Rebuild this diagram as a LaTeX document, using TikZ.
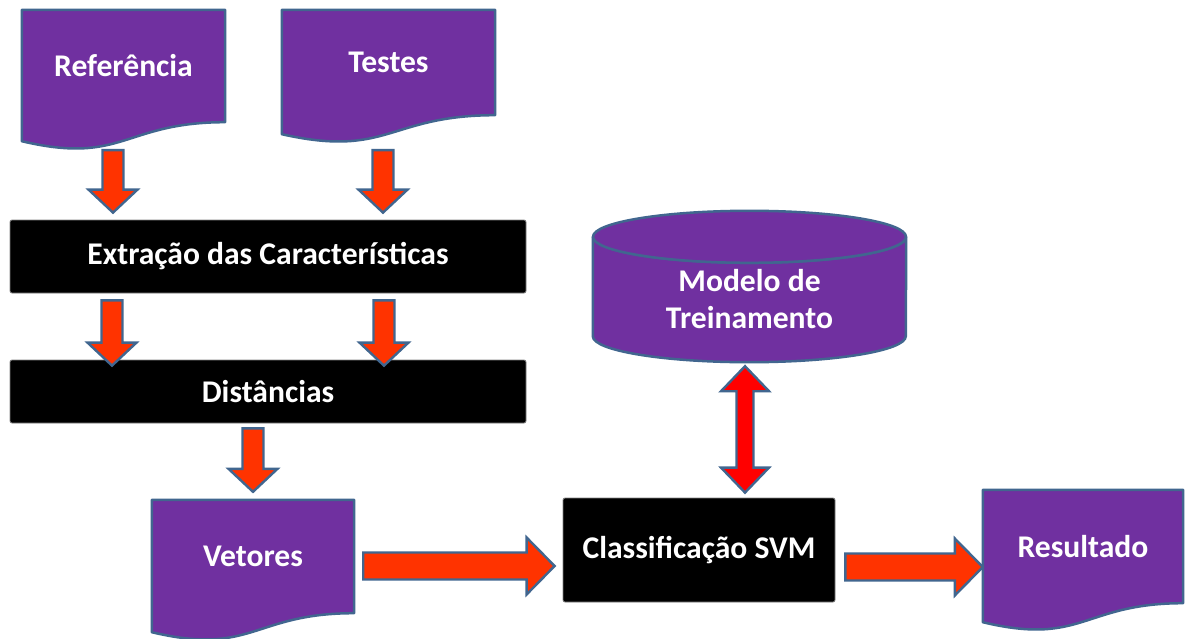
\documentclass[tikz,border=0pt]{standalone}
\usepackage{fontspec}
\setmainfont{Carlito}
\usetikzlibrary{calc}

\definecolor{docpurple}{HTML}{7030A0}
\definecolor{edgeblue}{HTML}{41668F}
\definecolor{arrowred}{HTML}{FF3300}
\definecolor{linkred}{HTML}{FF0000}
\definecolor{boxedge}{HTML}{808080}

\tikzset{
  label text/.style={text=white, font=\fontsize{31.6}{37}\selectfont\bfseries, align=center},
  docnode/.style={label text, inner sep=0pt},
  docshape/.style={fill=docpurple, draw=edgeblue, line width=2.5pt, line join=round},
  procbox/.style={label text, fill=black, draw=boxedge, line width=0.8pt, rounded corners=2pt, inner sep=0pt},
  blockarrow/.style={draw=edgeblue, line width=2.4pt, line join=miter},
}

% flowchart document outline around a node covering its upper part
\newcommand\docoutline[1]{%
  \path[docshape] (#1.north west) -- (#1.north east) -- (#1.south east)
    .. controls (#1.south) and ($(#1.south)+(0,43)$) .. ($(#1.south west)+(0,19)$) -- cycle;}

% fat downward arrow: #2 start of shaft, #3 tip
\newcommand\downblock[3][arrowred]{%
  \path[blockarrow, fill=#1] let \p1=#2, \p2=#3 in
    (\x1-10.5pt,\y1) -- (\x1+10.5pt,\y1) -- (\x1+10.5pt,\y2+23pt) -- (\x1+24.5pt,\y2+23pt)
    -- (\x1,\y2) -- (\x1-24.5pt,\y2+23pt) -- (\x1-10.5pt,\y2+23pt) -- cycle;}

% fat arrow pointing right: #2 start of shaft, #3 tip
\newcommand\rightblock[3][arrowred]{%
  \path[blockarrow, fill=#1] let \p1=#2, \p2=#3 in
    (\x1,\y2+13.5pt) -- (\x2-28pt,\y2+13.5pt) -- (\x2-28pt,\y2+28.5pt) -- (\x2,\y2)
    -- (\x2-28pt,\y2-28.5pt) -- (\x2-28pt,\y2-13.5pt) -- (\x1,\y2-13.5pt) -- cycle;}

% fat vertical arrow with two heads: #2 upper tip, #3 lower tip
\newcommand\updownblock[3][linkred]{%
  \path[blockarrow, fill=#1] let \p1=#2, \p2=#3 in
    (\x1,\y1) -- (\x1+24pt,\y1-25pt) -- (\x1+8.5pt,\y1-25pt) -- (\x1+8.5pt,\y2+25pt)
    -- (\x1+24pt,\y2+25pt) -- (\x1,\y2) -- (\x1-24pt,\y2+25pt) -- (\x1-8.5pt,\y2+25pt)
    -- (\x1-8.5pt,\y1-25pt) -- (\x1-24pt,\y1-25pt) -- cycle;}

\begin{document}
\begin{tikzpicture}[x=1pt, y=-1pt]
\useasboundingbox[fill=white] (0,0) rectangle (1185,639);

% input documents
\node[docnode, minimum width=203pt, minimum height=112pt] (ref) at (123.5,66) {};
\docoutline{ref}
\node[label text] at (ref.center) {Referência};

\node[docnode, minimum width=213pt, minimum height=105pt] (tst) at (388.5,62.5) {};
\docoutline{tst}
\node[label text] at (tst.center) {Testes};

% processing stages
\node[procbox, minimum width=516pt, minimum height=73pt] (ext) at (268,256.5) {Extração das Características};
\node[procbox, minimum width=516pt, minimum height=63pt] (dist) at (268,391.5) {Distâncias};

\node[docnode, minimum width=202pt, minimum height=113pt] (vet) at (253,556.5) {};
\docoutline{vet}
\node[label text] at (vet.center) {Vetores};

\node[procbox, minimum width=272pt, minimum height=104pt] (svm) at (699,550) {Classificação SVM};

\node[docnode, minimum width=200pt, minimum height=113pt] (res) at (1083,546.5) {};
\docoutline{res}
\node[label text] at (res.center) {Resultado};

% training model store
\node[inner sep=0pt, minimum width=313pt, minimum height=151pt] (model) at (749.5,286.5) {};
\path[docshape] ($(model.north west)+(0,26)$) -- ($(model.south west)+(0,-26)$)
  arc[start angle=180, end angle=360, x radius=156.5pt, y radius=26pt]
  -- ($(model.north east)+(0,26)$)
  arc[start angle=0, end angle=-180, x radius=156.5pt, y radius=26pt] -- cycle;
\path[docshape] ($(model.north)+(0,26)$) ellipse[x radius=156.5pt, y radius=26pt];
\node[label text] at ($(model.center)+(0,12.5)$) {Modelo de\\Treinamento};

% flow arrows
\downblock{($(ref.south)+(-10.5,28)$)}{($(ext.north -| ref.south)+(-10.5,-7)$)}
\downblock{($(tst.south)+(-5.5,35)$)}{($(ext.north -| tst.south)+(-5.5,-7)$)}
\downblock{($(ext.south)+(-156,7)$)}{($(dist.north)+(-156,6)$)}
\downblock{($(ext.south)+(116,7)$)}{($(dist.north)+(116,6)$)}
\downblock{($(dist.south)+(-15,5)$)}{($(vet.north)+(0,-8)$)}
\rightblock{($(vet.east)+(9,0)$)}{($(svm.west)+(-8,16)$)}
\rightblock{($(svm.east)+(10,0)$)}{($(res.west)+(0,20.5)$)}
\updownblock{($(model.south)+(-4.5,4)$)}{($(svm.north -| model.south)+(-4.5,-5)$)}
\end{tikzpicture}
\end{document}
